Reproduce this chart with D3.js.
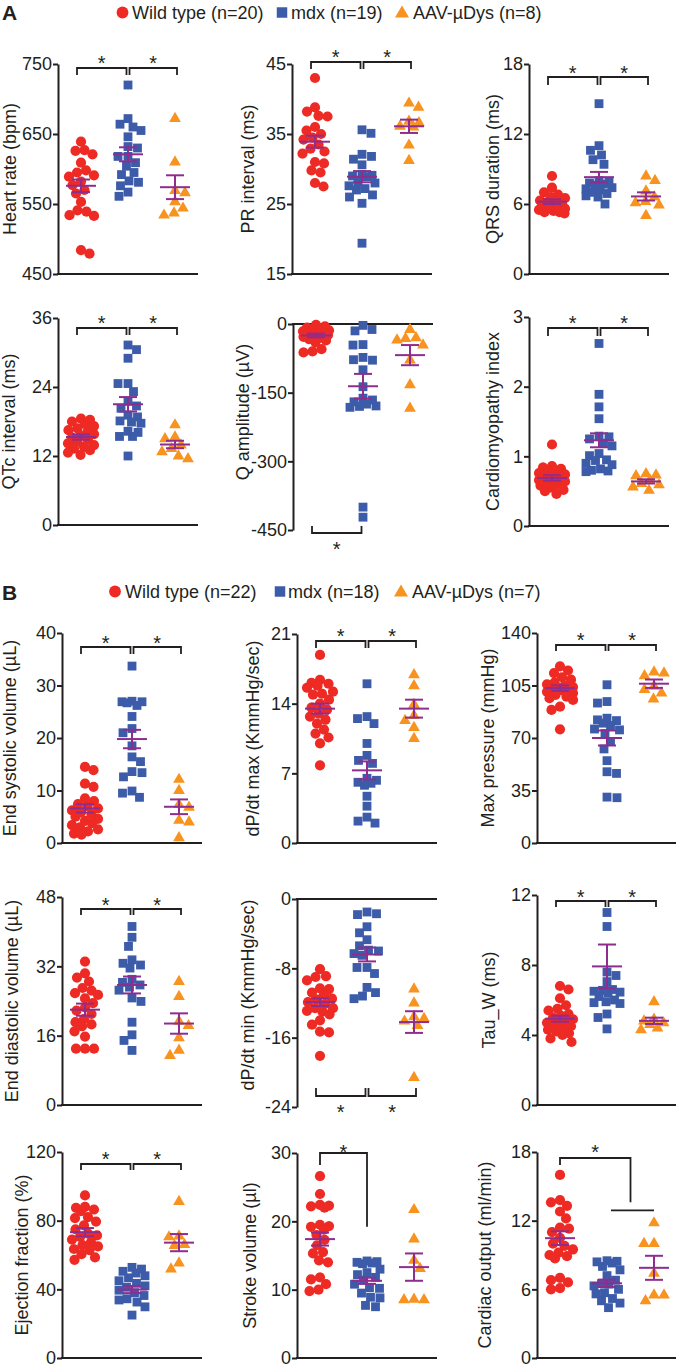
<!DOCTYPE html>
<html><head><meta charset="utf-8">
<script src="https://cdn.jsdelivr.net/npm/d3@7"></script>
<style>
body{margin:0;background:#fff}
text{font-family:"Liberation Sans",Arial,Helvetica,sans-serif;fill:#231F20}
</style>
</head><body>
<svg id="chart" width="676" height="1367"></svg>
<script>
// ---------------- DATA ----------------
const groups = ["Wild type", "mdx", "AAV-µDys"];
const legendA = ["Wild type (n=20)", "mdx (n=19)", "AAV-µDys (n=8)"];
const legendB = ["Wild type (n=22)", "mdx (n=18)", "AAV-µDys (n=7)"];

const heartRate = [
  [639,627,626,621,609,598,595,591,589,582,577,570,565,553,541,539,534,533,484,479],
  [720,672,664,660,655,646,632,630,618,618,609,604,595,592,583,581,576,567,561],
  [672,610,569,566,553,544,537,534]];
const heartRateMean = [576,621,574], heartRateSem = [9,10,17];
const heartRateTicks = [450,550,650,750];

const prInterval = [
  [43.0,38.8,38.2,37.6,37.5,36.0,35.5,35.0,34.5,34.2,33.5,32.9,32.5,32.2,31.0,30.8,29.8,29.5,28.0,27.5],
  [35.6,35.1,32.1,31.8,31.4,30.6,29.2,29.1,29.0,28.9,28.2,28.0,27.6,27.2,27.0,26.3,26.0,25.1,19.4],
  [39.4,38.8,36.8,36.6,36.1,36.0,33.4,31.2]];
const prMean = [33.9,28.9,36.1], prSem = [0.85,0.8,0.95];
const prTicks = [15,25,35,45];

const qrsDuration = [
  [8.4,7.4,7.0,6.8,6.6,6.5,6.3,6.2,6.1,6.0,6.0,5.9,5.8,5.7,5.6,5.5,5.4,5.3,5.3,5.2],
  [14.6,11.0,10.6,10.2,9.8,9.4,8.0,7.9,7.8,7.7,7.6,7.4,7.3,7.2,7.0,6.9,6.7,6.6,6.0],
  [8.4,8.0,7.1,6.6,6.2,6.1,5.9,5.0]];
const qrsMean = [6.2,8.3,6.65], qrsSem = [0.2,0.45,0.35];
const qrsTicks = [0,6,12,18];

const qtcInterval = [
  [18.5,18.3,18.0,17.6,17.2,16.8,16.5,16.2,15.8,15.5,15.2,14.8,14.5,14.2,13.9,13.6,13.3,13.0,12.6,12.2],
  [31.3,30.5,29.0,24.6,24.6,23.2,21.5,20.7,20.3,19.1,18.8,18.1,17.9,17.7,16.3,16.1,15.4,15.4,12.0],
  [17.4,15.3,15.0,13.9,13.3,12.7,12.0,11.5]];
const qtcMean = [15.3,21.0,14.0], qtcSem = [0.45,1.25,0.65];
const qtcTicks = [0,12,24,36];

const qAmplitude = [
  [-2,-5,-8,-10,-12,-14,-16,-18,-20,-22,-24,-26,-28,-30,-33,-36,-40,-55,-60,-62],
  [-3,-12,-15,-45,-46,-73,-78,-79,-100,-137,-162,-166,-170,-175,-179,-180,-182,-400,-422],
  [-12,-30,-32,-35,-46,-79,-133,-184]];
const qAmpMean = [-25,-136,-68], qAmpSem = [4,27,22];
const qAmpTicks = [0,-150,-300,-450];

const cardioIndex = [
  [1.17,0.86,0.84,0.82,0.80,0.78,0.76,0.74,0.72,0.70,0.68,0.66,0.64,0.62,0.60,0.58,0.55,0.52,0.50,0.46],
  [2.62,1.89,1.71,1.54,1.29,1.28,1.25,1.19,1.15,1.04,1.01,0.95,0.94,0.90,0.88,0.82,0.80,0.79,0.78],
  [0.75,0.73,0.72,0.66,0.61,0.59,0.56,0.51]];
const cardioMean = [0.69,1.23,0.64], cardioSem = [0.04,0.1,0.03];
const cardioTicks = [0,1,2,3];

const esVolume = [
  [14.5,13.9,11.3,10.7,8.5,8.0,7.4,7.0,6.6,6.2,5.9,5.5,5.0,4.6,4.2,3.8,3.4,3.0,2.6,2.2,1.8,1.6],
  [33.7,27.0,26.9,26.9,26.7,26.2,24.1,21.8,21.0,18.5,16.4,15.5,13.6,13.4,12.6,9.9,9.5,8.7],
  [12.1,10.0,7.3,6.8,4.3,4.0,1.0]];
const esvMean = [6.6,19.8,6.9], esvSem = [0.8,1.75,1.4];
const esvTicks = [0,10,20,30,40];

const dpdtMax = [
  [18.9,16.4,16.1,16.0,15.8,15.6,15.2,15.0,14.9,14.4,14.0,13.6,13.4,13.0,12.7,12.4,12.0,11.4,11.0,10.6,10.0,7.8],
  [16.0,12.7,12.5,12.0,10.0,8.8,8.3,8.0,6.5,6.3,6.1,6.0,5.8,4.7,3.7,2.6,2.2,2.0],
  [16.9,15.8,13.9,12.8,12.3,11.6,10.5]];
const dpdtMaxMean = [13.5,7.3,13.5], dpdtMaxSem = [0.5,0.9,0.9];
const dpdtMaxTicks = [0,7,14,21];

const maxPressure = [
  [117.8,115.0,113.3,110.5,108.9,107.0,105.8,104.8,104.0,103.5,103.0,102.5,101.8,100.8,100.0,98.8,97.5,96.5,95.4,90.9,88.7,75.8],
  [105.5,94.3,93.3,83.2,82.1,81.6,79.9,78.3,76.0,75.4,73.0,67.6,62.7,54.9,47.5,46.4,30.6,30.2],
  [113.9,113.3,111.5,104.5,102.2,99.9,95.9]];
const maxPMean = [103.3,70.0,106.2], maxPSem = [1.8,5.0,2.8];
const maxPTicks = [0,35,70,105,140];

const edVolume = [
  [33.1,30.4,29.4,28.5,27.0,26.4,25.8,25.4,24.6,23.5,22.5,21.8,21.0,19.8,19.1,18.6,18.2,17.0,15.8,13.0,13.0,13.0],
  [41.2,38.7,36.6,33.5,32.7,32.3,31.6,29.0,28.3,27.7,27.2,26.5,24.7,23.9,19.1,16.2,14.9,12.6],
  [28.5,25.0,19.3,18.3,15.5,12.6,11.4]];
const edvMean = [22.0,27.7,18.8], edvSem = [1.4,1.95,2.35];
const edvTicks = [0,16,32,48];

const dpdtMin = [
  [-8.1,-8.9,-9.0,-9.4,-10.3,-10.4,-10.8,-11.0,-11.5,-11.6,-11.9,-12.1,-12.6,-12.6,-12.9,-13.0,-13.3,-14.0,-14.5,-15.3,-15.4,-18.1],
  [-1.5,-1.7,-1.8,-3.2,-3.9,-4.7,-5.4,-5.9,-6.0,-6.3,-6.5,-7.9,-7.9,-8.6,-10.2,-10.8,-11.2,-11.5],
  [-10.4,-12.0,-13.6,-13.8,-14.1,-14.6,-20.6]];
const dpdtMinMean = [-11.9,-6.4,-14.2], dpdtMinSem = [0.45,0.8,1.25];
const dpdtMinTicks = [0,-8,-16,-24];

const tauW = [
  [6.8,6.6,6.1,5.7,5.5,5.4,5.2,5.1,5.0,4.9,4.8,4.7,4.7,4.6,4.5,4.4,4.3,4.2,4.1,4.0,3.8,3.6],
  [11.0,10.2,7.6,7.4,7.05,6.6,6.55,6.5,6.45,6.4,6.2,6.0,5.9,5.85,5.8,5.2,5.0,4.35],
  [5.9,4.9,4.8,4.7,4.6,4.4,4.3]];
const tauMean = [4.93,7.92,4.81], tauSem = [0.17,1.25,0.18];
const tauTicks = [0,4,8,12];

const ejectionFraction = [
  [94.7,88.0,87.5,86.5,85.5,82.0,81.5,79.5,77.2,75.0,72.5,71.4,70.5,69.0,67.5,65.7,65.0,63.5,62.8,60.5,58.6,57.2],
  [52.8,51.8,50.5,49.5,47.9,46.7,45.0,43.5,42.0,41.2,39.5,38.0,36.4,34.5,33.8,32.6,29.8,25.0],
  [91.1,71.0,70.5,66.0,65.5,55.3,51.8]];
const efMean = [73.3,39.9,67.2], efSem = [2.4,2.1,5.0];
const efTicks = [0,40,80,120];

const strokeVolume = [
  [26.6,24.0,22.4,22.3,22.2,22.0,19.5,19.3,19.2,18.8,18.0,17.3,16.5,15.5,15.3,14.3,14.0,11.8,11.5,10.8,10.0,9.8],
  [14.2,14.1,14.0,13.9,13.8,13.0,12.5,12.2,11.8,11.4,10.8,10.3,10.2,9.5,8.9,8.8,7.7,7.5],
  [21.7,17.4,14.3,13.1,8.6,8.5,8.5]];
const svMean = [17.4,11.3,13.3], svSem = [0.95,0.45,2.0];
const svTicks = [0,10,20,30];

const cardiacOutput = [
  [16.0,13.8,13.6,13.3,12.8,12.2,11.4,11.3,11.0,10.5,10.0,9.8,9.5,9.2,9.0,8.9,8.7,7.0,6.8,6.6,6.1,6.0],
  [8.5,8.45,8.4,8.3,8.0,7.7,7.2,6.8,6.5,6.45,6.3,6.0,5.7,5.6,5.2,5.0,4.8,4.4],
  [11.8,10.0,10.0,7.4,5.5,5.5,5.0]];
const coMean = [10.47,6.53,7.88], coSem = [0.6,0.32,1.05];
const coTicks = [0,6,12,18];

// ---------------- STYLE ----------------
const colors = ["#EE2A24", "#3C5BA9", "#F7931E"];
const purple = "#8F2D8F";
const ink = "#231F20";
const shapes = [d3.symbolCircle, d3.symbolSquare, d3.symbolTriangle];
const shapeSize = [82, 78, 60];
const minDist = [9, 9.6, 10];
const maxHalf = 13;
const FS = 18;

// ---------------- LAYOUT ----------------
const panels = [
  {title:"Heart rate (bpm)", data:heartRate, mean:heartRateMean, sem:heartRateSem, ticks:heartRateTicks, ax:58, top:64, bottom:274, tx:10, br:{type:"pair", y:68, d:7, star:58}},
  {title:"PR interval (ms)", data:prInterval, mean:prMean, sem:prSem, ticks:prTicks, ax:292, top:64, bottom:274, tx:248, br:{type:"pair", y:62, d:7, star:52}},
  {title:"QRS duration (ms)", data:qrsDuration, mean:qrsMean, sem:qrsSem, ticks:qrsTicks, ax:529, top:64, bottom:274, tx:493, br:{type:"pair", y:77, d:8, star:68}},
  {title:"QTc interval (ms)", data:qtcInterval, mean:qtcMean, sem:qtcSem, ticks:qtcTicks, ax:58, top:318, bottom:525, tx:9, br:{type:"pair", y:328, d:7, star:318}},
  {title:"Q amplitude (µV)", data:qAmplitude, mean:qAmpMean, sem:qAmpSem, ticks:qAmpTicks, ax:293, top:324, bottom:530, tx:243, ty:412, inverted:true, br:{type:"below", pairs:[[0,1]], y:533, d:7, star:544}},
  {title:"Cardiomyopathy index", data:cardioIndex, mean:cardioMean, sem:cardioSem, ticks:cardioTicks, ax:529, top:317, bottom:526, tx:493, br:{type:"pair", y:328, d:8, star:318}},
  {title:"End systolic volume (µL)", data:esVolume, mean:esvMean, sem:esvSem, ticks:esvTicks, ax:62, top:633, bottom:843, tx:10, br:{type:"pair", y:647, d:7, star:638}},
  {title:"dP/dt max (KmmHg/sec)", data:dpdtMax, mean:dpdtMaxMean, sem:dpdtMaxSem, ticks:dpdtMaxTicks, ax:297, top:634, bottom:843, tx:253, br:{type:"pair", y:641, d:7, star:631}},
  {title:"Max pressure (mmHg)", data:maxPressure, mean:maxPMean, sem:maxPSem, ticks:maxPTicks, ax:537, top:633, bottom:843, tx:488, br:{type:"pair", y:645, d:6, star:635}},
  {title:"End diastolic volume (µL)", data:edVolume, mean:edvMean, sem:edvSem, ticks:edvTicks, ax:62, top:897, bottom:1105, tx:12, br:{type:"pair", y:909, d:6, star:900}},
  {title:"dP/dt min (KmmHg/sec)", data:dpdtMin, mean:dpdtMinMean, sem:dpdtMinSem, ticks:dpdtMinTicks, ax:297, top:899, bottom:1107, tx:248, ty:995, inverted:true, br:{type:"below", pairs:[[0,1],[1,2]], y:1096, d:8, star:1107}},
  {title:"Tau_W (ms)", data:tauW, mean:tauMean, sem:tauSem, ticks:tauTicks, ax:537, top:895, bottom:1105, tx:489, br:{type:"pair", y:901, d:6, star:892}},
  {title:"Ejection fraction (%)", data:ejectionFraction, mean:efMean, sem:efSem, ticks:efTicks, ax:62, top:1152, bottom:1358, tx:22, br:{type:"pair", y:1164, d:6, star:1154}},
  {title:"Stroke volume (µl)", data:strokeVolume, mean:svMean, sem:svSem, ticks:svTicks, ax:297, top:1153, bottom:1358, tx:250, br:{type:"stroke"}},
  {title:"Cardiac output (ml/min)", data:cardiacOutput, mean:coMean, sem:coSem, ticks:coTicks, ax:537, top:1152, bottom:1358, tx:485, br:{type:"cardiac"}}
];

const svg = d3.select("#chart");

// compact beeswarm: smallest offset without collision, within a fixed half-width;
// otherwise the position with the least overlap
function swarm(vals, y, cx, md) {
  const pts = vals.map(v => ({v, y: y(v)})).sort((a, b) => a.y - b.y);
  const placed = [];
  const cands = [];
  for (let k = 0; k <= maxHalf; k += 0.5) { if (k === 0) cands.push(0); else cands.push(k, -k); }
  pts.forEach((p, i) => {
    let best = null, bestScore = -1, bestDx = 0;
    const order = i % 2 ? cands : cands.map(d => -d);
    for (const dx of order) {
      let m = Infinity;
      for (const q of placed) m = Math.min(m, Math.hypot(q.dx - dx, q.y - p.y));
      if (m >= md) { best = dx; break; }
      if (m > bestScore) { bestScore = m; bestDx = dx; }
    }
    p.dx = best !== null ? best : bestDx; p.x = cx + p.dx; placed.push(p);
  });
  return pts;
}

function star(g, x, yc) {
  g.append("text").attr("x", x).attr("y", yc + 12).attr("text-anchor", "middle")
    .style("font-size", "20px").text("*");
}

panels.forEach(p => {
  const g = svg.append("g");
  const dom = d3.extent(p.ticks);
  const y = d3.scaleLinear().domain(dom).range([p.bottom, p.top]);
  const x = d3.scalePoint().domain(groups).range([p.ax + 23, p.ax + 117]);

  const ya = g.append("g").attr("transform", `translate(${p.ax},0)`)
    .call(d3.axisLeft(y).tickValues(p.ticks).tickSize(5).tickSizeOuter(0).tickPadding(1).tickFormat(d => String(d)));
  ya.select(".domain").attr("stroke", ink).attr("stroke-width", 2);
  ya.selectAll(".tick line").attr("stroke", ink).attr("stroke-width", 2);
  ya.selectAll(".tick text").style("font-size", FS + "px").attr("fill", ink)
    .style("font-family", '"Liberation Sans",Arial,sans-serif');

  const xl = p.inverted ? y(0) : p.bottom;
  g.append("line").attr("x1", p.ax - 1).attr("x2", p.ax + 140).attr("y1", xl).attr("y2", xl)
    .attr("stroke", ink).attr("stroke-width", 2);

  const ty = p.ty !== undefined ? p.ty : (p.top + p.bottom) / 2;
  g.append("text").attr("transform", `translate(${p.tx},${ty}) rotate(-90)`)
    .attr("text-anchor", "middle").attr("dy", "0.35em").style("font-size", FS + "px").text(p.title);

  p.data.forEach((vals, gi) => {
    const pts = swarm(vals, y, x(groups[gi]), minDist[gi]);
    g.selectAll(null).data(pts).enter().append("path")
      .attr("d", d3.symbol().type(shapes[gi]).size(shapeSize[gi]))
      .attr("transform", d => `translate(${d.x},${d.y})`)
      .attr("fill", colors[gi]);
  });

  groups.forEach((gr, gi) => {
    const cx = x(gr), m = p.mean[gi], s = p.sem[gi];
    const mg = g.append("g").attr("stroke", purple).attr("stroke-width", 2).attr("fill", "none");
    mg.append("line").attr("x1", cx - 15).attr("x2", cx + 15).attr("y1", y(m)).attr("y2", y(m));
    mg.append("line").attr("x1", cx).attr("x2", cx).attr("y1", y(m + s)).attr("y2", y(m - s));
    mg.append("line").attr("x1", cx - 9).attr("x2", cx + 9).attr("y1", y(m + s)).attr("y2", y(m + s));
    mg.append("line").attr("x1", cx - 9).attr("x2", cx + 9).attr("y1", y(m - s)).attr("y2", y(m - s));
  });

  const bg = g.append("g").attr("stroke", ink).attr("stroke-width", 1.8).attr("fill", "none");
  const b = p.br;
  const xs = groups.map(gr => x(gr));
  if (b.type === "pair") {
    [[xs[0] - 4, xs[1] - 1.5], [xs[1] + 1.5, xs[2] + 2]].forEach(([a, c]) => {
      bg.append("path").attr("d", `M${a},${b.y + b.d}V${b.y}H${c}V${b.y + b.d}`);
      star(g, (a + c) / 2, b.star);
    });
  } else if (b.type === "below") {
    b.pairs.forEach(([i, j]) => {
      const a = xs[i] + (i === 0 ? -4 : 1.5), c = xs[j] + (j === 2 ? 2 : -1.5);
      bg.append("path").attr("d", `M${a},${b.y - b.d}V${b.y}H${c}V${b.y - b.d}`);
      star(g, (a + c) / 2, b.star);
    });
  } else if (b.type === "stroke") {
    bg.append("path").attr("d", `M${xs[0]},${p.top + 12}V${p.top}H${xs[1]}V${y(19.2)}`);
    star(g, (xs[0] + xs[1]) / 2, p.top - 6);
  } else if (b.type === "cardiac") {
    const mid = (xs[1] + xs[2]) / 2;
    bg.append("path").attr("d", `M${xs[0]},${p.top + 13}V${p.top + 6}H${mid}V${y(13.6)}`);
    bg.append("path").attr("d", `M${xs[1] + 4},${y(12.9)}H${xs[2]}`);
    star(g, (xs[0] + mid) / 2, p.top - 5);
  }
});

function legend(labels, yc, mx, tx) {
  const g = svg.append("g");
  labels.forEach((lab, i) => {
    g.append("path").attr("d", d3.symbol().type(shapes[i]).size([110, 110, 85][i]))
      .attr("transform", `translate(${mx[i]},${yc + (i === 2 ? 1 : 0)})`).attr("fill", colors[i]);
    g.append("text").attr("x", tx[i]).attr("y", yc).attr("dy", "0.35em")
      .style("font-size", FS + "px").text(lab);
  });
}
legend(legendA, 12.5, [122.5, 282, 402], [132, 291, 413]);
legend(legendB, 591.5, [115, 280, 401], [125, 288, 412]);

svg.append("text").attr("x", 2).attr("y", 20).style("font-size", "21px").style("font-weight", "bold").text("A");
svg.append("text").attr("x", 2).attr("y", 600).style("font-size", "21px").style("font-weight", "bold").text("B");
</script>
</body></html>
